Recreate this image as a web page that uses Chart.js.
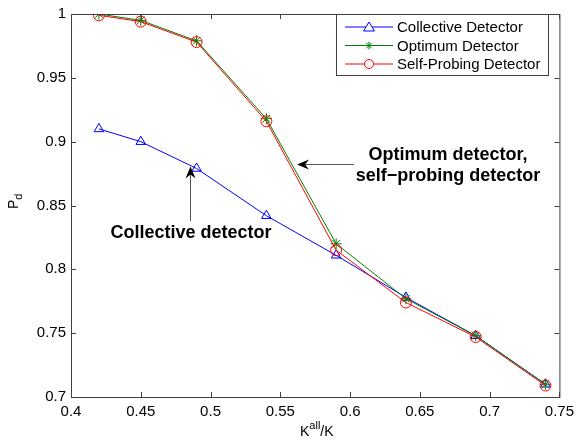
<!DOCTYPE html>
<html>
<head>
<meta charset="utf-8">
<script src="https://cdn.jsdelivr.net/npm/chart.js@4/dist/chart.umd.min.js"></script>
<style>
  html, body { margin: 0; padding: 0; background: #fff; }
  #wrap { width: 580px; height: 446px; }
</style>
</head>
<body>
<div id="wrap"><canvas id="chart" width="580" height="446"></canvas></div>
<script>
// data
const ratios = [0.42, 0.45, 0.49, 0.54, 0.59, 0.64, 0.69, 0.74];
const collective = [0.910, 0.900, 0.879, 0.842, 0.811, 0.778, 0.748, 0.710];
const optimum = [1.000, 0.995, 0.979, 0.918, 0.820, 0.777, 0.748, 0.710];
const selfProbing = [0.999, 0.994, 0.978, 0.916, 0.815, 0.774, 0.747, 0.709];
const xTicks = [0.4, 0.45, 0.5, 0.55, 0.6, 0.65, 0.7, 0.75];
const yTicks = [0.7, 0.75, 0.8, 0.85, 0.9, 0.95, 1];
const seriesNames = ["Collective Detector", "Optimum Detector", "Self-Probing Detector"];

const FONT = "Liberation Sans, Arial, Helvetica, sans-serif";
const toPoints = (ys) => ratios.map((x, i) => ({ x: x, y: ys[i] }));

// frame, inward ticks, legend, notes and axis titles
const decor = {
  id: "decor",
  afterDraw(chart) {
    const { ctx, chartArea: a, scales } = chart;
    const xs = scales.x, ys = scales.y;
    ctx.save();
    ctx.strokeStyle = "#404040";
    ctx.lineWidth = 1;
    ctx.strokeRect(a.left + 0.5, a.top + 0.5, a.right - a.left, a.bottom - a.top);
    ctx.beginPath();
    xTicks.forEach((v) => {
      const px = Math.round(xs.getPixelForValue(v)) + 0.5;
      ctx.moveTo(px, a.bottom); ctx.lineTo(px, a.bottom - 5);
      ctx.moveTo(px, a.top); ctx.lineTo(px, a.top + 5);
    });
    yTicks.forEach((v) => {
      const py = Math.round(ys.getPixelForValue(v)) + 0.5;
      ctx.moveTo(a.left, py); ctx.lineTo(a.left + 5, py);
      ctx.moveTo(a.right, py); ctx.lineTo(a.right - 5, py);
    });
    ctx.stroke();

    // legend
    const lx = 336.5, ly = 14.5, lw = 212, lh = 61;
    ctx.fillStyle = "#fff";
    ctx.fillRect(lx, ly, lw, lh);
    ctx.strokeStyle = "#404040";
    ctx.strokeRect(lx, ly, lw, lh);
    const colors = ["#0000ff", "#008000", "#ff0000"];
    ctx.font = "15px " + FONT;
    ctx.textBaseline = "middle";
    seriesNames.forEach((name, i) => {
      const yy = 27 + i * 18.5;
      ctx.strokeStyle = colors[i];
      ctx.beginPath();
      ctx.moveTo(345, yy); ctx.lineTo(393, yy);
      ctx.stroke();
      ctx.beginPath();
      if (i === 0) {
        ctx.moveTo(369, yy - 5); ctx.lineTo(374.5, yy + 4); ctx.lineTo(363.5, yy + 4); ctx.closePath();
        ctx.fillStyle = "#fff"; ctx.fill();
      } else if (i === 1) {
        for (let k = 0; k < 4; k++) {
          const ang = k * Math.PI / 4;
          ctx.moveTo(369 - 4 * Math.cos(ang), yy - 4 * Math.sin(ang));
          ctx.lineTo(369 + 4 * Math.cos(ang), yy + 4 * Math.sin(ang));
        }
      } else {
        ctx.arc(369, yy, 4.5, 0, Math.PI * 2);
        ctx.fillStyle = "#fff"; ctx.fill();
      }
      ctx.stroke();
      ctx.fillStyle = "#000";
      ctx.textAlign = "left";
      ctx.fillText(name, 397, yy + 1);
    });

    // annotations
    ctx.strokeStyle = "#555";
    ctx.fillStyle = "#000";
    ctx.beginPath();
    ctx.moveTo(354, 164.5); ctx.lineTo(300, 164.5);
    ctx.moveTo(190.5, 221); ctx.lineTo(190.5, 170);
    ctx.stroke();
    ctx.beginPath();
    ctx.moveTo(297, 164.5); ctx.lineTo(309, 159.5); ctx.lineTo(305, 164.5); ctx.lineTo(309, 169.5); ctx.closePath();
    ctx.moveTo(190.5, 166.5); ctx.lineTo(185.5, 178.5); ctx.lineTo(190.5, 174.5); ctx.lineTo(195.5, 178.5); ctx.closePath();
    ctx.fill();
    ctx.font = "bold 18px " + FONT;
    ctx.textAlign = "center";
    ctx.fillText("Optimum detector,", 448, 155);
    ctx.fillText("self\u2212probing detector", 448, 176);
    ctx.fillText("Collective detector", 191, 233);

    // axis titles
    ctx.font = "14px " + FONT;
    ctx.textAlign = "left";
    ctx.textBaseline = "alphabetic";
    const kw = ctx.measureText("K").width;
    ctx.fillText("K", 300, 436);
    ctx.font = "11px " + FONT;
    ctx.fillText("all", 300 + kw, 429);
    const aw = ctx.measureText("all").width;
    ctx.font = "14px " + FONT;
    ctx.fillText("/K", 300 + kw + aw, 436);

    ctx.translate(18, 209);
    ctx.rotate(-Math.PI / 2);
    ctx.fillText("P", 0, 0);
    const pw = ctx.measureText("P").width;
    ctx.font = "11px " + FONT;
    ctx.fillText("d", pw, 4);
    ctx.restore();
  }
};

new Chart(document.getElementById("chart"), {
  type: "line",
  data: {
    datasets: [
      { label: seriesNames[0], data: toPoints(collective), borderColor: "#0000ff", pointStyle: "triangle", order: 3 },
      { label: seriesNames[1], data: toPoints(optimum), borderColor: "#008000", pointStyle: "star", order: 2 },
      { label: seriesNames[2], data: toPoints(selfProbing), borderColor: "#ff0000", pointStyle: "circle", order: 1 }
    ].map((d) => Object.assign({
      borderWidth: 1,
      pointRadius: 5.5,
      pointBorderWidth: 1,
      pointBorderColor: d.borderColor,
      pointBackgroundColor: "rgba(0,0,0,0)",
      tension: 0,
      fill: false
    }, d))
  },
  options: {
    responsive: false,
    animation: false,
    events: [],
    layout: { padding: { left: 0, top: 6, right: 14, bottom: 0 } },
    plugins: { legend: { display: false }, tooltip: { enabled: false } },
    scales: {
      x: {
        type: "linear",
        min: 0.4, max: 0.75,
        afterBuildTicks: (s) => { s.ticks = xTicks.map((v) => ({ value: v })); },
        afterFit: (s) => { s.height = 49; },
        grid: { display: false, drawTicks: false },
        border: { display: false },
        ticks: { color: "#000", font: { family: FONT, size: 15 }, padding: 6, maxRotation: 0,
          callback: (v) => String(+v.toFixed(2)) }
      },
      y: {
        type: "linear",
        min: 0.7, max: 1,
        afterBuildTicks: (s) => { s.ticks = yTicks.map((v) => ({ value: v })); },
        afterFit: (s) => { s.width = 71; },
        grid: { display: false, drawTicks: false },
        border: { display: false },
        ticks: { color: "#000", font: { family: FONT, size: 15 }, padding: 5,
          callback: (v) => String(+v.toFixed(2)) }
      }
    }
  },
  plugins: [decor]
});
</script>
</body>
</html>
